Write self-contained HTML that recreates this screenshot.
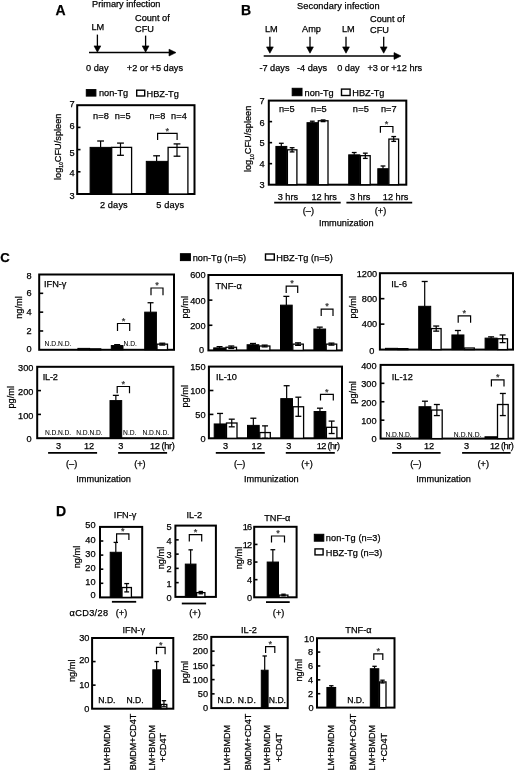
<!DOCTYPE html>
<html><head><meta charset="utf-8"><style>
html,body{margin:0;padding:0;background:#fff;}
svg{display:block;}
text{font-family:"Liberation Sans",Arial,Helvetica,sans-serif;font-size:9.2px;fill:#000;stroke:#000;stroke-width:0.25px;}
line,path,rect{stroke:#000;}
</style></head><body>
<svg width="520" height="771" viewBox="0 0 520 771">
<text x="55.6" y="15.3" style="font-size:14px;font-weight:bold">A</text>
<text x="92" y="7">Primary infection</text>
<text x="91.5" y="30">LM</text>
<text x="135" y="21.3">Count of</text>
<text x="135" y="32.3">CFU</text>
<line x1="97.40" y1="34.60" x2="97.40" y2="47.20" stroke-width="1.3"/>
<path d="M94.0,45.9 L100.8,45.9 L97.4,52.2 Z" stroke-width="0.6" fill="#000"/>
<line x1="145.60" y1="35.60" x2="145.60" y2="47.20" stroke-width="1.3"/>
<path d="M142.2,45.9 L149.0,45.9 L145.6,52.2 Z" stroke-width="0.6" fill="#000"/>
<line x1="89.00" y1="52.60" x2="170.00" y2="52.60" stroke-width="1.5"/>
<path d="M169.0,49.2 L169.0,56.0 L176.0,52.6 Z" stroke-width="0.6" fill="#000"/>
<text x="86" y="71">0 day</text>
<text x="126.8" y="71">+2 or +5 days</text>
<rect x="86.30" y="89.60" width="9.60" height="6.50" fill="#000" stroke="none"/>
<text x="99" y="96.1">non-Tg</text>
<rect x="136.70" y="90.20" width="8.00" height="5.80" fill="#fff" stroke-width="1.4"/>
<text x="146.6" y="96.7">HBZ-Tg</text>
<rect x="77.20" y="105.20" width="117.30" height="88.80" fill="none" stroke-width="2"/>
<text x="74.5" y="199.11" text-anchor="end">3</text>
<line x1="77.20" y1="171.80" x2="80.50" y2="171.80" stroke-width="1.6"/>
<text x="74.5" y="176.41" text-anchor="end">4</text>
<line x1="77.20" y1="149.60" x2="80.50" y2="149.60" stroke-width="1.6"/>
<text x="74.5" y="155.61" text-anchor="end">5</text>
<line x1="77.20" y1="127.40" x2="80.50" y2="127.40" stroke-width="1.6"/>
<text x="74.5" y="129.41" text-anchor="end">6</text>
<text x="74.5" y="107.21" text-anchor="end">7</text>
<rect x="90.10" y="147.38" width="21.00" height="46.62" fill="#000" stroke="none"/>
<rect x="111.70" y="147.38" width="19.90" height="46.62" fill="#fff" stroke-width="1.3"/>
<rect x="146.30" y="161.37" width="21.20" height="32.63" fill="#000" stroke="none"/>
<rect x="168.10" y="147.38" width="19.80" height="46.62" fill="#fff" stroke-width="1.3"/>
<line x1="100.60" y1="147.38" x2="100.60" y2="141.00" stroke-width="1.2"/>
<line x1="97.20" y1="141.00" x2="104.00" y2="141.00" stroke-width="1.3"/>
<line x1="120.50" y1="155.30" x2="120.50" y2="143.10" stroke-width="1.2"/>
<line x1="117.10" y1="143.10" x2="123.90" y2="143.10" stroke-width="1.3"/>
<line x1="117.10" y1="155.30" x2="123.90" y2="155.30" stroke-width="1.3"/>
<line x1="156.60" y1="161.37" x2="156.60" y2="155.80" stroke-width="1.2"/>
<line x1="153.20" y1="155.80" x2="160.00" y2="155.80" stroke-width="1.3"/>
<line x1="177.00" y1="156.20" x2="177.00" y2="143.90" stroke-width="1.2"/>
<line x1="173.60" y1="143.90" x2="180.40" y2="143.90" stroke-width="1.3"/>
<line x1="173.60" y1="156.20" x2="180.40" y2="156.20" stroke-width="1.3"/>
<path d="M157.6,139.9 L157.6,133.3 L177.1,133.3 L177.1,139.9" stroke-width="1.2" fill="none"/>
<text x="167.35" y="133.5" text-anchor="middle" style="fill:#333;stroke:#333">*</text>
<text x="93.0" y="118.6" textLength="37.6" lengthAdjust="spacing">n=8&#160;&#160;n=5</text>
<text x="149.5" y="118.6" textLength="37.4" lengthAdjust="spacing">n=8&#160;&#160;n=4</text>
<text x="99.9" y="208" textLength="27.8" lengthAdjust="spacing">2 days</text>
<text x="156.2" y="208" textLength="27.8" lengthAdjust="spacing">5 days</text>
<text x="60.6" y="146.8" text-anchor="middle" transform="rotate(-90 60.6 146.8)">log<tspan style="font-size:5px" dy="2.8">10</tspan><tspan dy="-2.8">CFU/spleen</tspan></text>
<text x="241.0" y="15.0" style="font-size:14px;font-weight:bold">B</text>
<text x="297" y="8.8" textLength="82.6" lengthAdjust="spacing">Secondary infection</text>
<text x="264.9" y="31.6">LM</text>
<text x="302" y="32">Amp</text>
<text x="342" y="31.6">LM</text>
<text x="370" y="22">Count of</text>
<text x="370" y="32.6">CFU</text>
<line x1="269.90" y1="36.80" x2="269.90" y2="48.20" stroke-width="1.3"/>
<path d="M266.5,46.9 L273.3,46.9 L269.9,53.2 Z" stroke-width="0.6" fill="#000"/>
<line x1="310.00" y1="36.80" x2="310.00" y2="48.20" stroke-width="1.3"/>
<path d="M306.6,46.9 L313.4,46.9 L310.0,53.2 Z" stroke-width="0.6" fill="#000"/>
<line x1="346.00" y1="36.80" x2="346.00" y2="48.20" stroke-width="1.3"/>
<path d="M342.6,46.9 L349.4,46.9 L346.0,53.2 Z" stroke-width="0.6" fill="#000"/>
<line x1="383.70" y1="36.80" x2="383.70" y2="48.20" stroke-width="1.3"/>
<path d="M380.3,46.9 L387.1,46.9 L383.7,53.2 Z" stroke-width="0.6" fill="#000"/>
<line x1="263.70" y1="56.00" x2="395.00" y2="56.00" stroke-width="1.5"/>
<path d="M394.0,52.6 L394.0,59.4 L401.0,56.0 Z" stroke-width="0.6" fill="#000"/>
<text x="259.4" y="71.3">-7 days</text>
<text x="297" y="71.3">-4 days</text>
<text x="337.2" y="71.3">0 day</text>
<text x="367.5" y="71.3">+3 or +12 hrs</text>
<rect x="292.20" y="88.30" width="9.80" height="7.40" fill="#000" stroke="none"/>
<text x="304.6" y="95.7">non-Tg</text>
<rect x="341.50" y="89.10" width="8.60" height="6.40" fill="#fff" stroke-width="1.4"/>
<text x="352.3" y="96.2">HBZ-Tg</text>
<rect x="268.80" y="100.60" width="137.50" height="84.10" fill="none" stroke-width="2"/>
<text x="264.5" y="187.61" text-anchor="end">3</text>
<line x1="268.80" y1="163.67" x2="272.10" y2="163.67" stroke-width="1.6"/>
<text x="264.5" y="166.99" text-anchor="end">4</text>
<line x1="268.80" y1="142.65" x2="272.10" y2="142.65" stroke-width="1.6"/>
<text x="264.5" y="146.16" text-anchor="end">5</text>
<line x1="268.80" y1="121.62" x2="272.10" y2="121.62" stroke-width="1.6"/>
<text x="264.5" y="126.14" text-anchor="end">6</text>
<text x="264.5" y="103.71" text-anchor="end">7</text>
<rect x="275.90" y="146.43" width="10.90" height="38.27" fill="#000" stroke="none"/>
<rect x="287.40" y="149.80" width="9.50" height="34.90" fill="#fff" stroke-width="1.3"/>
<rect x="307.00" y="122.68" width="10.70" height="62.02" fill="#000" stroke="none"/>
<rect x="318.30" y="120.78" width="9.70" height="63.92" fill="#fff" stroke-width="1.3"/>
<rect x="348.70" y="154.84" width="11.10" height="29.86" fill="#000" stroke="none"/>
<rect x="360.40" y="155.69" width="9.80" height="29.01" fill="#fff" stroke-width="1.3"/>
<rect x="377.80" y="168.72" width="10.50" height="15.98" fill="#000" stroke="none"/>
<rect x="388.90" y="139.08" width="9.70" height="45.62" fill="#fff" stroke-width="1.3"/>
<line x1="281.30" y1="146.43" x2="281.30" y2="143.28" stroke-width="1.2"/>
<line x1="278.90" y1="143.28" x2="283.70" y2="143.28" stroke-width="1.3"/>
<line x1="292.10" y1="151.90" x2="292.10" y2="147.70" stroke-width="1.2"/>
<line x1="289.70" y1="147.70" x2="294.50" y2="147.70" stroke-width="1.3"/>
<line x1="289.70" y1="151.90" x2="294.50" y2="151.90" stroke-width="1.3"/>
<line x1="312.30" y1="122.68" x2="312.30" y2="121.20" stroke-width="1.2"/>
<line x1="309.90" y1="121.20" x2="314.70" y2="121.20" stroke-width="1.3"/>
<line x1="323.10" y1="121.62" x2="323.10" y2="119.94" stroke-width="1.2"/>
<line x1="320.70" y1="119.94" x2="325.50" y2="119.94" stroke-width="1.3"/>
<line x1="320.70" y1="121.62" x2="325.50" y2="121.62" stroke-width="1.3"/>
<line x1="354.20" y1="154.84" x2="354.20" y2="152.53" stroke-width="1.2"/>
<line x1="351.80" y1="152.53" x2="356.60" y2="152.53" stroke-width="1.3"/>
<line x1="365.30" y1="158.42" x2="365.30" y2="153.16" stroke-width="1.2"/>
<line x1="362.90" y1="153.16" x2="367.70" y2="153.16" stroke-width="1.3"/>
<line x1="362.90" y1="158.42" x2="367.70" y2="158.42" stroke-width="1.3"/>
<line x1="383.00" y1="168.72" x2="383.00" y2="165.99" stroke-width="1.2"/>
<line x1="380.60" y1="165.99" x2="385.40" y2="165.99" stroke-width="1.3"/>
<line x1="393.70" y1="141.39" x2="393.70" y2="136.55" stroke-width="1.2"/>
<line x1="391.30" y1="136.55" x2="396.10" y2="136.55" stroke-width="1.3"/>
<line x1="391.30" y1="141.39" x2="396.10" y2="141.39" stroke-width="1.3"/>
<path d="M380.4,132.7 L380.4,126.5 L392.9,126.5 L392.9,132.7" stroke-width="1.2" fill="none"/>
<text x="386.65" y="126.7" text-anchor="middle" style="fill:#333;stroke:#333">*</text>
<text x="279.0" y="111.6" textLength="15.6" lengthAdjust="spacing">n=5</text>
<text x="311.1" y="111.6" textLength="15.6" lengthAdjust="spacing">n=5</text>
<text x="352.8" y="111.6" textLength="16.1" lengthAdjust="spacing">n=5</text>
<text x="381.0" y="111.6" textLength="15.5" lengthAdjust="spacing">n=7</text>
<text x="277.7" y="199.9">3 hrs</text>
<text x="311.4" y="199.9">12 hrs</text>
<text x="349.9" y="199.9">3 hrs</text>
<text x="382.8" y="199.9">12 hrs</text>
<line x1="274.20" y1="202.60" x2="340.70" y2="202.60" stroke-width="1.8"/>
<line x1="346.40" y1="202.60" x2="412.20" y2="202.60" stroke-width="1.8"/>
<text x="308.4" y="214" text-anchor="middle">(&#8211;)</text>
<text x="380.5" y="214" text-anchor="middle">(+)</text>
<text x="318.9" y="226.4">Immunization</text>
<text x="251.1" y="138.9" text-anchor="middle" transform="rotate(-90 251.1 138.9)">log<tspan style="font-size:5px" dy="2.8">10</tspan><tspan dy="-2.8">CFU/spleen</tspan></text>
<text x="0.3" y="261.8" style="font-size:13.2px;font-weight:bold">C</text>
<rect x="180.40" y="253.70" width="10.00" height="6.90" fill="#000" stroke="none"/>
<text x="192.7" y="260.59999999999997">non-Tg (n=5)</text>
<rect x="265.50" y="254.00" width="8.80" height="6.00" fill="#fff" stroke-width="1.4"/>
<text x="276.3" y="260.7">HBZ-Tg (n=5)</text>
<rect x="39.20" y="274.50" width="134.80" height="75.30" fill="none" stroke-width="2"/>
<text x="31.6" y="351.61" text-anchor="end">0</text>
<line x1="39.20" y1="330.98" x2="43.20" y2="330.98" stroke-width="1.6"/>
<text x="31.6" y="334.29" text-anchor="end">2</text>
<line x1="39.20" y1="312.15" x2="43.20" y2="312.15" stroke-width="1.6"/>
<text x="31.6" y="315.46" text-anchor="end">4</text>
<line x1="39.20" y1="293.32" x2="43.20" y2="293.32" stroke-width="1.6"/>
<text x="31.6" y="296.14" text-anchor="end">6</text>
<text x="31.6" y="278.61" text-anchor="end">8</text>
<text x="44.0" y="287.0">IFN-&#947;</text>
<rect x="77.90" y="348.39" width="11.70" height="1.41" fill="#000" stroke="none"/>
<rect x="90.20" y="348.86" width="10.50" height="0.94" fill="#fff" stroke-width="1.3"/>
<rect x="111.30" y="345.56" width="11.70" height="4.24" fill="#000" stroke="none"/>
<line x1="117.15" y1="345.56" x2="117.15" y2="344.62" stroke-width="1.2"/>
<line x1="114.15" y1="344.62" x2="120.15" y2="344.62" stroke-width="1.3"/>
<rect x="144.70" y="312.15" width="11.70" height="37.65" fill="#000" stroke="none"/>
<line x1="150.55" y1="312.15" x2="150.55" y2="302.74" stroke-width="1.2"/>
<line x1="147.55" y1="302.74" x2="153.55" y2="302.74" stroke-width="1.3"/>
<rect x="157.00" y="344.15" width="10.50" height="5.65" fill="#fff" stroke-width="1.3"/>
<line x1="162.25" y1="345.09" x2="162.25" y2="343.21" stroke-width="1.2"/>
<line x1="159.25" y1="343.21" x2="165.25" y2="343.21" stroke-width="1.3"/>
<line x1="159.25" y1="345.09" x2="165.25" y2="345.09" stroke-width="1.3"/>
<text x="44.6" y="345.6" style="font-size:6.7px;stroke-width:0.05px" textLength="26.9" lengthAdjust="spacing">N.D.N.D.</text>
<text x="123.5" y="345.6" style="font-size:6.7px;stroke-width:0.05px">N.D.</text>
<path d="M117.5,331.0 L117.5,323.5 L129.7,323.5 L129.7,331.0" stroke-width="1.2" fill="none"/>
<text x="123.6" y="323.7" text-anchor="middle" style="fill:#333;stroke:#333">*</text>
<path d="M151.0,295.2 L151.0,288.0 L163.0,288.0 L163.0,295.2" stroke-width="1.2" fill="none"/>
<text x="157.0" y="288.2" text-anchor="middle" style="fill:#333;stroke:#333">*</text>
<text x="22.3" y="307.5" text-anchor="middle" transform="rotate(-90 22.3 307.5)">ng/ml</text>
<rect x="208.40" y="275.00" width="133.40" height="75.40" fill="none" stroke-width="2"/>
<text x="204.0" y="353.41" text-anchor="end">0</text>
<line x1="208.40" y1="325.27" x2="212.40" y2="325.27" stroke-width="1.6"/>
<text x="205.6" y="328.78" text-anchor="end">200</text>
<line x1="208.40" y1="300.13" x2="212.40" y2="300.13" stroke-width="1.6"/>
<text x="205.6" y="303.65" text-anchor="end">400</text>
<text x="205.6" y="278.31" text-anchor="end">600</text>
<text x="215.5" y="288.6">TNF-&#945;</text>
<rect x="213.70" y="347.89" width="11.70" height="2.51" fill="#000" stroke="none"/>
<line x1="219.55" y1="348.89" x2="219.55" y2="346.63" stroke-width="1.2"/>
<line x1="216.55" y1="346.63" x2="222.55" y2="346.63" stroke-width="1.3"/>
<line x1="216.55" y1="348.89" x2="222.55" y2="348.89" stroke-width="1.3"/>
<rect x="226.00" y="347.26" width="10.50" height="3.14" fill="#fff" stroke-width="1.3"/>
<line x1="231.25" y1="348.51" x2="231.25" y2="346.00" stroke-width="1.2"/>
<line x1="228.25" y1="346.00" x2="234.25" y2="346.00" stroke-width="1.3"/>
<line x1="228.25" y1="348.51" x2="234.25" y2="348.51" stroke-width="1.3"/>
<rect x="247.10" y="344.75" width="11.70" height="5.65" fill="#000" stroke="none"/>
<line x1="252.95" y1="346.00" x2="252.95" y2="343.49" stroke-width="1.2"/>
<line x1="249.95" y1="343.49" x2="255.95" y2="343.49" stroke-width="1.3"/>
<line x1="249.95" y1="346.00" x2="255.95" y2="346.00" stroke-width="1.3"/>
<rect x="259.40" y="346.00" width="10.50" height="4.40" fill="#fff" stroke-width="1.3"/>
<line x1="264.65" y1="346.88" x2="264.65" y2="345.12" stroke-width="1.2"/>
<line x1="261.65" y1="345.12" x2="267.65" y2="345.12" stroke-width="1.3"/>
<line x1="261.65" y1="346.88" x2="267.65" y2="346.88" stroke-width="1.3"/>
<rect x="280.50" y="305.16" width="11.70" height="45.24" fill="#000" stroke="none"/>
<line x1="286.35" y1="305.16" x2="286.35" y2="296.36" stroke-width="1.2"/>
<line x1="283.35" y1="296.36" x2="289.35" y2="296.36" stroke-width="1.3"/>
<rect x="292.80" y="344.12" width="10.50" height="6.28" fill="#fff" stroke-width="1.3"/>
<line x1="298.05" y1="345.37" x2="298.05" y2="342.86" stroke-width="1.2"/>
<line x1="295.05" y1="342.86" x2="301.05" y2="342.86" stroke-width="1.3"/>
<line x1="295.05" y1="345.37" x2="301.05" y2="345.37" stroke-width="1.3"/>
<rect x="313.90" y="329.04" width="11.70" height="21.36" fill="#000" stroke="none"/>
<line x1="319.75" y1="329.04" x2="319.75" y2="327.15" stroke-width="1.2"/>
<line x1="316.75" y1="327.15" x2="322.75" y2="327.15" stroke-width="1.3"/>
<rect x="326.20" y="344.12" width="10.50" height="6.28" fill="#fff" stroke-width="1.3"/>
<line x1="331.45" y1="345.12" x2="331.45" y2="343.11" stroke-width="1.2"/>
<line x1="328.45" y1="343.11" x2="334.45" y2="343.11" stroke-width="1.3"/>
<line x1="328.45" y1="345.12" x2="334.45" y2="345.12" stroke-width="1.3"/>
<path d="M286.2,293.0 L286.2,286.2 L297.7,286.2 L297.7,293.0" stroke-width="1.2" fill="none"/>
<text x="291.95" y="286.4" text-anchor="middle" style="fill:#333;stroke:#333">*</text>
<path d="M321.2,315.9 L321.2,309.1 L333.0,309.1 L333.0,315.9" stroke-width="1.2" fill="none"/>
<text x="327.1" y="309.3" text-anchor="middle" style="fill:#333;stroke:#333">*</text>
<text x="188.4" y="307.3" text-anchor="middle" transform="rotate(-90 188.4 307.3)">pg/ml</text>
<rect x="379.90" y="273.20" width="133.10" height="76.40" fill="none" stroke-width="2"/>
<text x="374.4" y="354.41" text-anchor="end">0</text>
<line x1="379.90" y1="324.13" x2="384.40" y2="324.13" stroke-width="1.6"/>
<text x="377.2" y="327.45" text-anchor="end">400</text>
<line x1="379.90" y1="298.67" x2="384.40" y2="298.67" stroke-width="1.6"/>
<text x="377.2" y="301.98" text-anchor="end">800</text>
<text x="377.2" y="276.51" text-anchor="end">1200</text>
<text x="391.2" y="287.2">IL-6</text>
<rect x="385.50" y="348.33" width="12.00" height="1.27" fill="#000" stroke="none"/>
<rect x="398.10" y="348.65" width="9.80" height="0.95" fill="#fff" stroke-width="1.3"/>
<rect x="418.70" y="306.31" width="12.00" height="43.29" fill="#000" stroke="none"/>
<line x1="424.70" y1="306.31" x2="424.70" y2="281.48" stroke-width="1.2"/>
<line x1="421.70" y1="281.48" x2="427.70" y2="281.48" stroke-width="1.3"/>
<rect x="431.30" y="328.59" width="9.80" height="21.01" fill="#fff" stroke-width="1.3"/>
<line x1="436.20" y1="331.14" x2="436.20" y2="326.04" stroke-width="1.2"/>
<line x1="433.20" y1="326.04" x2="439.20" y2="326.04" stroke-width="1.3"/>
<line x1="433.20" y1="331.14" x2="439.20" y2="331.14" stroke-width="1.3"/>
<rect x="451.90" y="334.96" width="12.00" height="14.64" fill="#000" stroke="none"/>
<line x1="457.90" y1="334.96" x2="457.90" y2="330.50" stroke-width="1.2"/>
<line x1="454.90" y1="330.50" x2="460.90" y2="330.50" stroke-width="1.3"/>
<rect x="464.50" y="348.01" width="9.80" height="1.59" fill="#fff" stroke-width="1.3"/>
<rect x="485.10" y="338.14" width="12.00" height="11.46" fill="#000" stroke="none"/>
<line x1="491.10" y1="338.14" x2="491.10" y2="336.87" stroke-width="1.2"/>
<line x1="488.10" y1="336.87" x2="494.10" y2="336.87" stroke-width="1.3"/>
<rect x="497.70" y="338.78" width="9.80" height="10.82" fill="#fff" stroke-width="1.3"/>
<line x1="502.60" y1="342.60" x2="502.60" y2="334.96" stroke-width="1.2"/>
<line x1="499.60" y1="334.96" x2="505.60" y2="334.96" stroke-width="1.3"/>
<line x1="499.60" y1="342.60" x2="505.60" y2="342.60" stroke-width="1.3"/>
<path d="M458.2,322.8 L458.2,315.8 L470.6,315.8 L470.6,322.8" stroke-width="1.2" fill="none"/>
<text x="464.4" y="316.0" text-anchor="middle" style="fill:#333;stroke:#333">*</text>
<text x="355.6" y="307.3" text-anchor="middle" transform="rotate(-90 355.6 307.3)">pg/ml</text>
<rect x="37.20" y="366.80" width="136.20" height="71.40" fill="none" stroke-width="2"/>
<text x="31.6" y="442.01" text-anchor="end">0</text>
<line x1="37.20" y1="414.40" x2="41.00" y2="414.40" stroke-width="1.6"/>
<text x="33.4" y="418.51" text-anchor="end">100</text>
<line x1="37.20" y1="390.60" x2="41.00" y2="390.60" stroke-width="1.6"/>
<text x="33.4" y="394.71" text-anchor="end">200</text>
<text x="33.4" y="371.31" text-anchor="end">300</text>
<text x="42.8" y="379.8" textLength="15.0" lengthAdjust="spacing">IL-2</text>
<rect x="110.00" y="400.60" width="11.70" height="37.60" fill="#000" stroke="none"/>
<line x1="115.85" y1="400.60" x2="115.85" y2="395.36" stroke-width="1.2"/>
<line x1="112.85" y1="395.36" x2="118.85" y2="395.36" stroke-width="1.3"/>
<text x="44.9" y="435.0" style="font-size:6.7px;stroke-width:0.05px" textLength="26.3" lengthAdjust="spacing">N.D.N.D.</text>
<text x="76.2" y="435.0" style="font-size:6.7px;stroke-width:0.05px" textLength="26.5" lengthAdjust="spacing">N.D.N.D.</text>
<text x="123.1" y="435.0" style="font-size:6.7px;stroke-width:0.05px">N.D.</text>
<text x="142.4" y="435.0" style="font-size:6.7px;stroke-width:0.05px" textLength="26.8" lengthAdjust="spacing">N.D.N.D.</text>
<path d="M117.2,393.2 L117.2,386.5 L129.5,386.5 L129.5,393.2" stroke-width="1.2" fill="none"/>
<text x="123.35" y="386.7" text-anchor="middle" style="fill:#333;stroke:#333">*</text>
<text x="13.7" y="397.3" text-anchor="middle" transform="rotate(-90 13.7 397.3)">pg/ml</text>
<rect x="208.90" y="366.60" width="133.10" height="71.70" fill="none" stroke-width="2"/>
<text x="205.6" y="441.61" text-anchor="end">0</text>
<line x1="208.90" y1="414.40" x2="213.40" y2="414.40" stroke-width="1.6"/>
<text x="205.6" y="418.21" text-anchor="end">50</text>
<line x1="208.90" y1="390.50" x2="213.40" y2="390.50" stroke-width="1.6"/>
<text x="205.6" y="394.31" text-anchor="end">100</text>
<text x="205.6" y="370.41" text-anchor="end">150</text>
<text x="216.0" y="379.9">IL-10</text>
<rect x="214.20" y="423.96" width="11.70" height="14.34" fill="#000" stroke="none"/>
<line x1="220.05" y1="423.96" x2="220.05" y2="413.44" stroke-width="1.2"/>
<line x1="217.05" y1="413.44" x2="223.05" y2="413.44" stroke-width="1.3"/>
<rect x="226.50" y="423.00" width="10.50" height="15.30" fill="#fff" stroke-width="1.3"/>
<line x1="231.75" y1="426.83" x2="231.75" y2="419.18" stroke-width="1.2"/>
<line x1="228.75" y1="419.18" x2="234.75" y2="419.18" stroke-width="1.3"/>
<line x1="228.75" y1="426.83" x2="234.75" y2="426.83" stroke-width="1.3"/>
<rect x="247.50" y="425.39" width="11.70" height="12.91" fill="#000" stroke="none"/>
<line x1="253.35" y1="425.39" x2="253.35" y2="418.22" stroke-width="1.2"/>
<line x1="250.35" y1="418.22" x2="256.35" y2="418.22" stroke-width="1.3"/>
<rect x="259.80" y="432.56" width="10.50" height="5.74" fill="#fff" stroke-width="1.3"/>
<line x1="265.05" y1="438.30" x2="265.05" y2="425.87" stroke-width="1.2"/>
<line x1="262.05" y1="425.87" x2="268.05" y2="425.87" stroke-width="1.3"/>
<line x1="262.05" y1="438.30" x2="268.05" y2="438.30" stroke-width="1.3"/>
<rect x="280.80" y="398.63" width="11.70" height="39.67" fill="#000" stroke="none"/>
<line x1="286.65" y1="398.63" x2="286.65" y2="385.72" stroke-width="1.2"/>
<line x1="283.65" y1="385.72" x2="289.65" y2="385.72" stroke-width="1.3"/>
<rect x="293.10" y="406.75" width="10.50" height="31.55" fill="#fff" stroke-width="1.3"/>
<line x1="298.35" y1="416.31" x2="298.35" y2="397.19" stroke-width="1.2"/>
<line x1="295.35" y1="397.19" x2="301.35" y2="397.19" stroke-width="1.3"/>
<line x1="295.35" y1="416.31" x2="301.35" y2="416.31" stroke-width="1.3"/>
<rect x="314.10" y="411.53" width="11.70" height="26.77" fill="#000" stroke="none"/>
<line x1="319.95" y1="411.53" x2="319.95" y2="408.19" stroke-width="1.2"/>
<line x1="316.95" y1="408.19" x2="322.95" y2="408.19" stroke-width="1.3"/>
<rect x="326.40" y="427.31" width="10.50" height="10.99" fill="#fff" stroke-width="1.3"/>
<line x1="331.65" y1="433.52" x2="331.65" y2="421.09" stroke-width="1.2"/>
<line x1="328.65" y1="421.09" x2="334.65" y2="421.09" stroke-width="1.3"/>
<line x1="328.65" y1="433.52" x2="334.65" y2="433.52" stroke-width="1.3"/>
<path d="M320.5,400.6 L320.5,394.3 L333.3,394.3 L333.3,400.6" stroke-width="1.2" fill="none"/>
<text x="326.9" y="394.5" text-anchor="middle" style="fill:#333;stroke:#333">*</text>
<text x="188.4" y="396.3" text-anchor="middle" transform="rotate(-90 188.4 396.3)">pg/ml</text>
<rect x="380.60" y="364.90" width="132.70" height="73.70" fill="none" stroke-width="2"/>
<text x="376.6" y="442.41" text-anchor="end">0</text>
<line x1="380.60" y1="420.18" x2="384.40" y2="420.18" stroke-width="1.6"/>
<text x="376.6" y="423.99" text-anchor="end">100</text>
<line x1="380.60" y1="401.75" x2="384.40" y2="401.75" stroke-width="1.6"/>
<text x="376.6" y="405.56" text-anchor="end">200</text>
<line x1="380.60" y1="383.32" x2="384.40" y2="383.32" stroke-width="1.6"/>
<text x="376.6" y="387.14" text-anchor="end">300</text>
<text x="376.6" y="368.71" text-anchor="end">400</text>
<text x="391.8" y="379.9">IL-12</text>
<rect x="419.00" y="406.72" width="11.90" height="31.88" fill="#000" stroke="none"/>
<line x1="424.95" y1="406.72" x2="424.95" y2="401.20" stroke-width="1.2"/>
<line x1="421.95" y1="401.20" x2="427.95" y2="401.20" stroke-width="1.3"/>
<rect x="431.50" y="410.04" width="10.70" height="28.56" fill="#fff" stroke-width="1.3"/>
<line x1="436.85" y1="415.57" x2="436.85" y2="404.51" stroke-width="1.2"/>
<line x1="433.85" y1="404.51" x2="439.85" y2="404.51" stroke-width="1.3"/>
<line x1="433.85" y1="415.57" x2="439.85" y2="415.57" stroke-width="1.3"/>
<rect x="485.00" y="436.76" width="11.90" height="1.84" fill="#000" stroke="none"/>
<rect x="497.50" y="404.51" width="10.70" height="34.09" fill="#fff" stroke-width="1.3"/>
<line x1="502.85" y1="415.57" x2="502.85" y2="393.46" stroke-width="1.2"/>
<line x1="499.85" y1="393.46" x2="505.85" y2="393.46" stroke-width="1.3"/>
<line x1="499.85" y1="415.57" x2="505.85" y2="415.57" stroke-width="1.3"/>
<text x="385.5" y="436.9" style="font-size:6.7px;stroke-width:0.05px" textLength="26.1" lengthAdjust="spacing">N.D.N.D.</text>
<text x="453.7" y="436.7" style="font-size:6.7px;stroke-width:0.05px" textLength="27.9" lengthAdjust="spacing">N.D.N.D.</text>
<path d="M491.4,386.4 L491.4,379.9 L504.0,379.9 L504.0,386.4" stroke-width="1.2" fill="none"/>
<text x="497.7" y="380.1" text-anchor="middle" style="fill:#333;stroke:#333">*</text>
<text x="355.6" y="392.4" text-anchor="middle" transform="rotate(-90 355.6 392.4)">pg/ml</text>
<text x="58.6" y="449.2" text-anchor="middle">3</text>
<text x="89.1" y="449.2" text-anchor="middle">12</text>
<text x="120.8" y="449.2" text-anchor="middle">3</text>
<text x="149.9" y="449.2" textLength="24.9" lengthAdjust="spacing">12 (hr)</text>
<line x1="48.10" y1="452.80" x2="97.10" y2="452.80" stroke-width="1.8"/>
<line x1="118.10" y1="452.80" x2="167.10" y2="452.80" stroke-width="1.8"/>
<text x="71.6" y="467.0" text-anchor="middle">(&#8211;)</text>
<text x="139.9" y="467.0" text-anchor="middle">(+)</text>
<text x="76.3" y="481.8">Immunization</text>
<text x="225.6" y="449.2" text-anchor="middle">3</text>
<text x="256.7" y="449.2" text-anchor="middle">12</text>
<text x="288.8" y="449.2" text-anchor="middle">3</text>
<text x="316.7" y="449.2" textLength="23.3" lengthAdjust="spacing">12 (hr)</text>
<line x1="215.80" y1="452.80" x2="264.80" y2="452.80" stroke-width="1.8"/>
<line x1="285.80" y1="452.80" x2="334.80" y2="452.80" stroke-width="1.8"/>
<text x="239.6" y="467.0" text-anchor="middle">(&#8211;)</text>
<text x="307.0" y="467.0" text-anchor="middle">(+)</text>
<text x="244.0" y="481.8">Immunization</text>
<text x="399.1" y="449.2" text-anchor="middle">3</text>
<text x="429.1" y="449.2" text-anchor="middle">12</text>
<text x="466.5" y="449.2" text-anchor="middle">3</text>
<text x="489.9" y="449.2" textLength="23.8" lengthAdjust="spacing">12 (hr)</text>
<line x1="392.10" y1="452.80" x2="440.60" y2="452.80" stroke-width="1.8"/>
<line x1="462.10" y1="452.80" x2="510.60" y2="452.80" stroke-width="1.8"/>
<text x="415.90000000000003" y="467.0" text-anchor="middle">(&#8211;)</text>
<text x="483.3" y="467.0" text-anchor="middle">(+)</text>
<text x="416.3" y="481.8">Immunization</text>
<text x="56.0" y="516.2" style="font-size:14px;font-weight:bold">D</text>
<rect x="100.00" y="526.90" width="42.20" height="70.50" fill="none" stroke-width="2"/>
<text x="95.6" y="597.91" text-anchor="end">0</text>
<line x1="100.00" y1="583.30" x2="103.30" y2="583.30" stroke-width="1.6"/>
<text x="95.6" y="585.41" text-anchor="end">10</text>
<line x1="100.00" y1="569.20" x2="103.30" y2="569.20" stroke-width="1.6"/>
<text x="95.6" y="571.31" text-anchor="end">20</text>
<line x1="100.00" y1="555.10" x2="103.30" y2="555.10" stroke-width="1.6"/>
<text x="95.6" y="557.21" text-anchor="end">30</text>
<line x1="100.00" y1="541.00" x2="103.30" y2="541.00" stroke-width="1.6"/>
<text x="95.6" y="543.11" text-anchor="end">40</text>
<text x="95.6" y="527.91" text-anchor="end">50</text>
<text x="125.1" y="518.2" text-anchor="middle">IFN-&#947;</text>
<rect x="110.20" y="552.28" width="11.20" height="45.12" fill="#000" stroke="none"/>
<line x1="115.80" y1="552.28" x2="115.80" y2="542.41" stroke-width="1.2"/>
<line x1="113.60" y1="542.41" x2="118.00" y2="542.41" stroke-width="1.3"/>
<rect x="122.00" y="587.53" width="9.40" height="9.87" fill="#fff" stroke-width="1.3"/>
<line x1="126.70" y1="591.90" x2="126.70" y2="583.58" stroke-width="1.2"/>
<line x1="124.30" y1="583.58" x2="129.10" y2="583.58" stroke-width="1.3"/>
<line x1="124.30" y1="591.90" x2="129.10" y2="591.90" stroke-width="1.3"/>
<path d="M116.6,542.0 L116.6,533.8 L128.9,533.8 L128.9,540.1" stroke-width="1.2" fill="none"/>
<text x="122.75" y="534.0" text-anchor="middle" style="fill:#333;stroke:#333">*</text>
<line x1="111.90" y1="601.80" x2="136.20" y2="601.80" stroke-width="1.8"/>
<text x="80.4" y="557" text-anchor="middle" transform="rotate(-90 80.4 557)">ng/ml</text>
<text x="69.6" y="616.3" textLength="38.4" lengthAdjust="spacing">&#945;CD3/28</text>
<text x="121.5" y="616.3" text-anchor="middle">(+)</text>
<rect x="175.40" y="525.60" width="40.50" height="71.30" fill="none" stroke-width="2"/>
<text x="171.5" y="600.51" text-anchor="end">0</text>
<line x1="175.40" y1="582.64" x2="178.70" y2="582.64" stroke-width="1.6"/>
<text x="171.5" y="586.55" text-anchor="end">1</text>
<line x1="175.40" y1="568.38" x2="178.70" y2="568.38" stroke-width="1.6"/>
<text x="171.5" y="572.29" text-anchor="end">2</text>
<line x1="175.40" y1="554.12" x2="178.70" y2="554.12" stroke-width="1.6"/>
<text x="171.5" y="558.03" text-anchor="end">3</text>
<line x1="175.40" y1="539.86" x2="178.70" y2="539.86" stroke-width="1.6"/>
<text x="171.5" y="543.77" text-anchor="end">4</text>
<text x="171.5" y="529.91" text-anchor="end">5</text>
<text x="194.3" y="518.2" text-anchor="middle">IL-2</text>
<rect x="185.30" y="564.10" width="10.70" height="32.80" fill="#000" stroke="none"/>
<line x1="190.65" y1="564.10" x2="190.65" y2="549.84" stroke-width="1.2"/>
<line x1="188.45" y1="549.84" x2="192.85" y2="549.84" stroke-width="1.3"/>
<rect x="196.60" y="592.62" width="8.30" height="4.28" fill="#fff" stroke-width="1.3"/>
<line x1="200.75" y1="593.76" x2="200.75" y2="591.48" stroke-width="1.2"/>
<line x1="198.55" y1="591.48" x2="202.95" y2="591.48" stroke-width="1.3"/>
<line x1="198.55" y1="593.76" x2="202.95" y2="593.76" stroke-width="1.3"/>
<path d="M189.3,541.5 L189.3,534.6 L201.7,534.6 L201.7,541.5" stroke-width="1.2" fill="none"/>
<text x="195.5" y="534.8" text-anchor="middle" style="fill:#333;stroke:#333">*</text>
<line x1="181.80" y1="603.50" x2="206.10" y2="603.50" stroke-width="1.8"/>
<text x="164.1" y="558" text-anchor="middle" transform="rotate(-90 164.1 558)">ng/ml</text>
<text x="195.0" y="616.3" text-anchor="middle">(+)</text>
<rect x="254.20" y="526.80" width="42.40" height="70.50" fill="none" stroke-width="2"/>
<text x="252.2" y="600.61" text-anchor="end">0</text>
<line x1="254.20" y1="579.67" x2="257.50" y2="579.67" stroke-width="1.6"/>
<text x="252.2" y="582.99" text-anchor="end">4</text>
<line x1="254.20" y1="562.05" x2="257.50" y2="562.05" stroke-width="1.6"/>
<text x="252.2" y="565.36" text-anchor="end">8</text>
<line x1="254.20" y1="544.42" x2="257.50" y2="544.42" stroke-width="1.6"/>
<text x="252.2" y="547.74" text-anchor="end" textLength="9.4" lengthAdjust="spacing">12</text>
<text x="252.2" y="530.11" text-anchor="end" textLength="9.4" lengthAdjust="spacing">16</text>
<text x="277.3" y="520.8" text-anchor="middle">TNF-&#945;</text>
<rect x="267.20" y="562.05" width="11.30" height="35.25" fill="#000" stroke="none"/>
<line x1="272.85" y1="562.05" x2="272.85" y2="549.71" stroke-width="1.2"/>
<line x1="270.45" y1="549.71" x2="275.25" y2="549.71" stroke-width="1.3"/>
<rect x="279.10" y="595.10" width="8.80" height="2.20" fill="#fff" stroke-width="1.3"/>
<line x1="283.50" y1="595.76" x2="283.50" y2="594.22" stroke-width="1.2"/>
<line x1="281.30" y1="594.22" x2="285.70" y2="594.22" stroke-width="1.3"/>
<line x1="281.30" y1="595.76" x2="285.70" y2="595.76" stroke-width="1.3"/>
<path d="M271.5,542.4 L271.5,536.0 L284.5,536.0 L284.5,542.4" stroke-width="1.2" fill="none"/>
<text x="278.0" y="536.2" text-anchor="middle" style="fill:#333;stroke:#333">*</text>
<line x1="266.00" y1="602.10" x2="289.70" y2="602.10" stroke-width="1.8"/>
<text x="241.6" y="558" text-anchor="middle" transform="rotate(-90 241.6 558)">ng/ml</text>
<text x="278.6" y="616.3" text-anchor="middle">(+)</text>
<text x="325.8" y="541.2" textLength="54.8" lengthAdjust="spacing">non-Tg (n=3)</text>
<rect x="314.30" y="534.30" width="9.50" height="6.90" fill="#000" stroke="none"/>
<rect x="315.00" y="548.90" width="8.10" height="6.00" fill="#fff" stroke-width="1.4"/>
<text x="325.8" y="555.6">HBZ-Tg (n=3)</text>
<rect x="92.10" y="638.00" width="81.20" height="70.70" fill="none" stroke-width="2"/>
<text x="89.4" y="712.01" text-anchor="end">0</text>
<line x1="92.10" y1="685.13" x2="95.60" y2="685.13" stroke-width="1.6"/>
<text x="89.4" y="687.95" text-anchor="end">10</text>
<line x1="92.10" y1="661.57" x2="95.60" y2="661.57" stroke-width="1.6"/>
<text x="89.4" y="662.88" text-anchor="end">20</text>
<text x="89.4" y="640.71" text-anchor="end">30</text>
<text x="133.8" y="632.7" text-anchor="middle">IFN-&#947;</text>
<text x="98.3" y="703.0" style="font-size:8.6px">N.D.</text>
<text x="126.4" y="703.0" style="font-size:8.6px">N.D.</text>
<rect x="152.80" y="669.82" width="7.70" height="38.88" fill="#000" stroke="none"/>
<line x1="156.65" y1="669.82" x2="156.65" y2="661.57" stroke-width="1.2"/>
<line x1="154.45" y1="661.57" x2="158.85" y2="661.57" stroke-width="1.3"/>
<rect x="161.10" y="704.46" width="5.70" height="4.24" fill="#fff" stroke-width="1.3"/>
<line x1="163.95" y1="706.81" x2="163.95" y2="700.69" stroke-width="1.2"/>
<line x1="161.75" y1="700.69" x2="166.15" y2="700.69" stroke-width="1.3"/>
<line x1="161.75" y1="706.81" x2="166.15" y2="706.81" stroke-width="1.3"/>
<path d="M156.5,654.2 L156.5,647.3 L165.1,647.3 L165.1,654.2" stroke-width="1.2" fill="none"/>
<text x="160.8" y="647.5" text-anchor="middle" style="fill:#333;stroke:#333">*</text>
<text x="75.5" y="670.8" text-anchor="middle" transform="rotate(-90 75.5 670.8)">ng/ml</text>
<rect x="211.30" y="636.90" width="76.40" height="71.20" fill="none" stroke-width="2"/>
<text x="208" y="711.41" text-anchor="end">0</text>
<line x1="211.30" y1="693.86" x2="214.60" y2="693.86" stroke-width="1.6"/>
<text x="208" y="697.17" text-anchor="end">50</text>
<line x1="211.30" y1="679.62" x2="214.60" y2="679.62" stroke-width="1.6"/>
<text x="208" y="682.93" text-anchor="end">100</text>
<line x1="211.30" y1="665.38" x2="214.60" y2="665.38" stroke-width="1.6"/>
<text x="208" y="668.69" text-anchor="end">150</text>
<line x1="211.30" y1="651.14" x2="214.60" y2="651.14" stroke-width="1.6"/>
<text x="208" y="654.45" text-anchor="end">200</text>
<text x="208" y="640.21" text-anchor="end">250</text>
<text x="248.9" y="633.1" text-anchor="middle">IL-2</text>
<text x="217.5" y="702.5" style="font-size:8.6px">N.D.</text>
<text x="237.7" y="702.5" style="font-size:8.6px" textLength="18.2" lengthAdjust="spacing">N.D.</text>
<text x="268.8" y="702.5" style="font-size:8.6px">N.D.</text>
<rect x="261.30" y="670.22" width="6.80" height="37.88" fill="#000" stroke="none"/>
<line x1="264.70" y1="670.22" x2="264.70" y2="655.98" stroke-width="1.2"/>
<line x1="262.50" y1="655.98" x2="266.90" y2="655.98" stroke-width="1.3"/>
<path d="M265.6,652.9 L265.6,646.7 L274.8,646.7 L274.8,652.9" stroke-width="1.2" fill="none"/>
<text x="270.2" y="646.9" text-anchor="middle" style="fill:#333;stroke:#333">*</text>
<text x="188.0" y="672.1" text-anchor="middle" transform="rotate(-90 188.0 672.1)">pg/ml</text>
<rect x="317.00" y="638.20" width="77.50" height="69.40" fill="none" stroke-width="2"/>
<text x="313.5" y="710.91" text-anchor="end">0</text>
<line x1="317.00" y1="693.72" x2="320.30" y2="693.72" stroke-width="1.6"/>
<text x="313.0" y="697.03" text-anchor="end">2</text>
<line x1="317.00" y1="679.84" x2="320.30" y2="679.84" stroke-width="1.6"/>
<text x="313.0" y="683.15" text-anchor="end">4</text>
<line x1="317.00" y1="665.96" x2="320.30" y2="665.96" stroke-width="1.6"/>
<text x="313.0" y="669.27" text-anchor="end">6</text>
<line x1="317.00" y1="652.08" x2="320.30" y2="652.08" stroke-width="1.6"/>
<text x="313.0" y="655.39" text-anchor="end">8</text>
<text x="314.3" y="641.51" text-anchor="end">10</text>
<text x="358.4" y="633.0" text-anchor="middle">TNF-&#945;</text>
<rect x="326.90" y="687.47" width="8.80" height="20.13" fill="#000" stroke="none"/>
<line x1="331.30" y1="687.47" x2="331.30" y2="685.74" stroke-width="1.2"/>
<line x1="329.10" y1="685.74" x2="333.50" y2="685.74" stroke-width="1.3"/>
<text x="347.2" y="703.4" style="font-size:8.6px">N.D.</text>
<rect x="370.30" y="668.74" width="8.50" height="38.86" fill="#000" stroke="none"/>
<line x1="374.55" y1="668.74" x2="374.55" y2="666.31" stroke-width="1.2"/>
<line x1="372.35" y1="666.31" x2="376.75" y2="666.31" stroke-width="1.3"/>
<rect x="379.50" y="681.92" width="6.50" height="25.68" fill="#fff" stroke-width="1.3"/>
<line x1="382.50" y1="682.96" x2="382.50" y2="680.19" stroke-width="1.2"/>
<line x1="380.30" y1="680.19" x2="384.70" y2="680.19" stroke-width="1.3"/>
<line x1="380.30" y1="682.96" x2="384.70" y2="682.96" stroke-width="1.3"/>
<path d="M373.8,660.0 L373.8,653.8 L382.8,653.8 L382.8,660.0" stroke-width="1.2" fill="none"/>
<text x="378.3" y="654.0" text-anchor="middle" style="fill:#333;stroke:#333">*</text>
<text x="301.6" y="670.3" text-anchor="middle" transform="rotate(-90 301.6 670.3)">ng/ml</text>
<text x="109.6" y="770.6" style="font-size:9.1px" transform="rotate(-90 109.6 770.6)">LM+BMDM</text>
<text x="135.6" y="770.3" style="font-size:9.1px" transform="rotate(-90 135.6 770.3)" textLength="56.6" lengthAdjust="spacing">BMDM+CD4T</text>
<text x="155.0" y="770.6" style="font-size:9.1px" transform="rotate(-90 155.0 770.6)">LM+BMDM</text>
<text x="166.3" y="747.4" text-anchor="middle" style="font-size:9.1px" transform="rotate(-90 166.3 747.4)">+CD4T</text>
<text x="229.6" y="770.6" style="font-size:9.1px" transform="rotate(-90 229.6 770.6)">LM+BMDM</text>
<text x="250.9" y="770.3" style="font-size:9.1px" transform="rotate(-90 250.9 770.3)" textLength="56.6" lengthAdjust="spacing">BMDM+CD4T</text>
<text x="270.0" y="770.6" style="font-size:9.1px" transform="rotate(-90 270.0 770.6)">LM+BMDM</text>
<text x="281.6" y="747.4" text-anchor="middle" style="font-size:9.1px" transform="rotate(-90 281.6 747.4)">+CD4T</text>
<text x="334.3" y="770.6" style="font-size:9.1px" transform="rotate(-90 334.3 770.6)">LM+BMDM</text>
<text x="355.8" y="770.3" style="font-size:9.1px" transform="rotate(-90 355.8 770.3)" textLength="56.6" lengthAdjust="spacing">BMDM+CD4T</text>
<text x="375.3" y="770.6" style="font-size:9.1px" transform="rotate(-90 375.3 770.6)">LM+BMDM</text>
<text x="387.0" y="747.4" text-anchor="middle" style="font-size:9.1px" transform="rotate(-90 387.0 747.4)">+CD4T</text>
</svg>
</body></html>
